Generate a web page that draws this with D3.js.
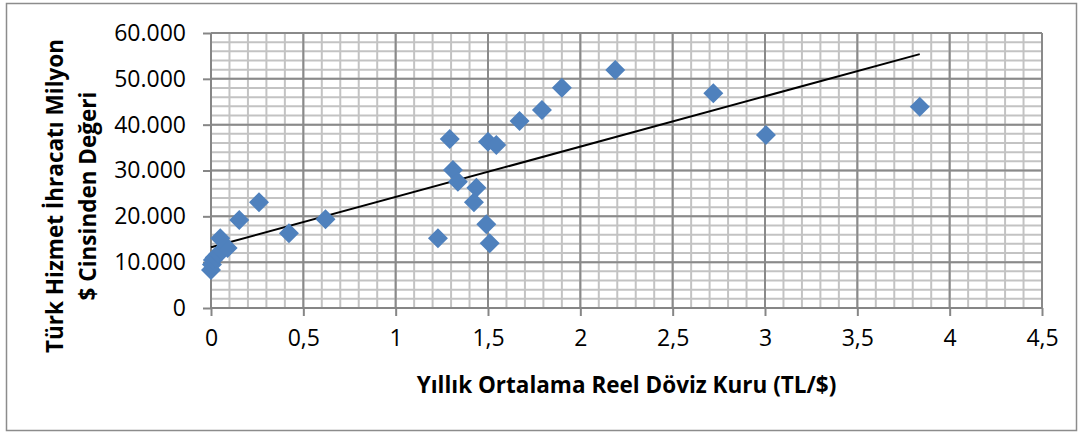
<!DOCTYPE html>
<html>
<head>
<meta charset="utf-8">
<style>
  body { margin: 0; background: #fff; }
  text { font-family: "Open Sans", sans-serif; fill: #000; }
  .tick text { font-size: 23px; }
  .title { font-weight: bold; font-size: 22.5px; }
</style>
</head>
<body>
<svg width="1082" height="432"></svg>
<script src="https://d3js.org/d3.v7.min.js"></script>
<script>
// Yıllık ortalama reel döviz kuru (TL/$)
var kur = [0, 0.005, 0.01, 0.02, 0.04, 0.06, 0.09, 0.05,
           0.153, 0.26, 0.422, 0.62,
           1.293, 1.50, 1.545, 1.31, 1.337, 1.437, 1.424, 1.491, 1.509, 1.229,
           1.671, 1.792, 1.90, 2.189,
           2.72, 3.005, 3.838];
// Hizmet ihracatı (milyon $)
var ihracat = [8300, 9500, 10500, 11000, 11800, 12500, 13100, 15200,
               19200, 23060, 16300, 19350,
               36870, 36290, 35570, 30110, 27560, 26250, 23060, 18260, 14110, 15200,
               40800, 43200, 48070, 51930,
               46850, 37750, 43920];

var xTicks = [0, 0.5, 1, 1.5, 2, 2.5, 3, 3.5, 4, 4.5];
var yTicks = [0, 10000, 20000, 30000, 40000, 50000, 60000];
var xTitle = "Yıllık Ortalama Reel Döviz Kuru (TL/$)";
var yTitle = ["Türk Hizmet İhracatı Milyon", "$ Cinsinden Değeri"];

var svg = d3.select("svg");
var pLeft = 211, pRight = 1042, pTop = 33, pBottom = 308;

var x = d3.scaleLinear().domain([0, 4.5]).range([pLeft, pRight]);
var y = d3.scaleLinear().domain([0, 60000]).range([pBottom, pTop]);

// dış çerçeve
svg.append("rect")
  .attr("x", 6.5).attr("y", 3.5).attr("width", 1070).attr("height", 427)
  .attr("fill", "#fff").attr("stroke", "#8c8c8c").attr("stroke-width", 1.5);

// ara ızgara
var g = svg.append("g");
g.selectAll(".vminor").data(d3.range(0, 46).map(function(i) { return i / 10; }))
  .enter().append("line")
  .attr("x1", function(d) { return x(d); }).attr("x2", function(d) { return x(d); })
  .attr("y1", pTop).attr("y2", pBottom)
  .attr("stroke", "#c3c3c3").attr("stroke-width", 2);
g.selectAll(".hminor").data(d3.range(0, 31).map(function(i) { return i * 2000; }))
  .enter().append("line")
  .attr("x1", pLeft).attr("x2", pRight)
  .attr("y1", function(d) { return y(d); }).attr("y2", function(d) { return y(d); })
  .attr("stroke", "#c3c3c3").attr("stroke-width", 2);

// ana ızgara
g.selectAll(".vmajor").data(xTicks).enter().append("line")
  .attr("x1", function(d) { return x(d); }).attr("x2", function(d) { return x(d); })
  .attr("y1", pTop).attr("y2", pBottom)
  .attr("stroke", "#8a8a8a").attr("stroke-width", 2);
g.selectAll(".hmajor").data(yTicks).enter().append("line")
  .attr("x1", pLeft).attr("x2", pRight)
  .attr("y1", function(d) { return y(d); }).attr("y2", function(d) { return y(d); })
  .attr("stroke", "#8a8a8a").attr("stroke-width", 2);

// eksenler
var fmtX = function(d) { return String(d).replace(".", ","); };
var fmtY = function(d) { return d === 0 ? "0" : d3.format(",")(d).replace(/,/g, "."); };

var xAxis = svg.append("g").attr("transform", "translate(0," + pBottom + ")")
  .call(d3.axisBottom(x).tickValues(xTicks).tickFormat(fmtX).tickSize(8).tickPadding(14));
var yAxis = svg.append("g").attr("transform", "translate(" + pLeft + ",0)")
  .call(d3.axisLeft(y).tickValues(yTicks).tickFormat(fmtY).tickSize(8).tickPadding(17));
[xAxis, yAxis].forEach(function(a) {
  a.select(".domain").attr("stroke", "#868686").attr("stroke-width", 2);
  a.selectAll(".tick line").attr("stroke", "#868686").attr("stroke-width", 2);
  a.selectAll(".tick text").attr("font-family", null).attr("font-size", null);
});
xAxis.select(".domain").attr("d", "M" + pLeft + ",0H" + pRight);
yAxis.select(".domain").attr("d", "M0," + (pBottom - pBottom) + "V0").remove();
svg.append("line").attr("x1", pLeft).attr("x2", pLeft).attr("y1", pTop).attr("y2", pBottom)
  .attr("stroke", "#868686").attr("stroke-width", 2);

// doğrusal eğilim çizgisi (en küçük kareler)
var mx = d3.mean(kur), my = d3.mean(ihracat);
var sxy = d3.sum(kur, function(v, i) { return (v - mx) * (ihracat[i] - my); });
var sxx = d3.sum(kur, function(v) { return (v - mx) * (v - mx); });
var slope = sxy / sxx, intercept = my - slope * mx;
var ext = d3.extent(kur);
svg.append("line")
  .attr("x1", x(ext[0])).attr("y1", y(intercept + slope * ext[0]))
  .attr("x2", x(ext[1])).attr("y2", y(intercept + slope * ext[1]))
  .attr("stroke", "#000").attr("stroke-width", 2);

// noktalar
var diamond = d3.symbol().type(d3.symbolSquare).size(200);
svg.append("g").selectAll("path").data(kur).enter().append("path")
  .attr("d", diamond)
  .attr("transform", function(d, i) { return "translate(" + x(d) + "," + y(ihracat[i]) + ") rotate(45)"; })
  .attr("fill", "#4f81bd");

// başlıklar
svg.append("text").attr("class", "title")
  .attr("x", (pLeft + pRight) / 2).attr("y", 393)
  .attr("text-anchor", "middle").text(xTitle);

var yt = svg.append("text").attr("class", "title")
  .attr("transform", "translate(71,196) rotate(-90)")
  .attr("text-anchor", "middle");
yt.append("tspan").attr("x", 0).attr("y", -8).text(yTitle[0]);
yt.append("tspan").attr("x", 0).attr("y", 25).text(yTitle[1]);
</script>
</body>
</html>
